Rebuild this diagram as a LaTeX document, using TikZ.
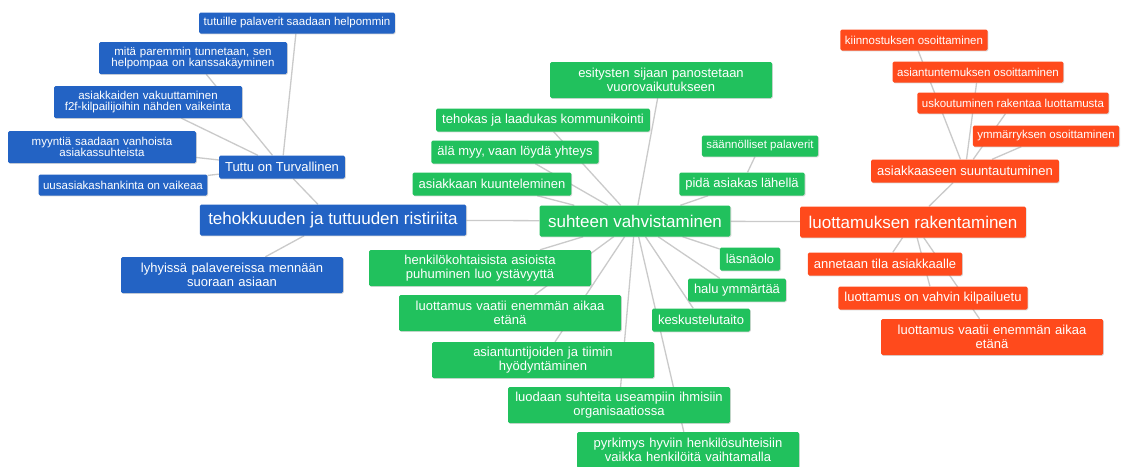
\documentclass[tikz,border=0pt]{standalone}
\usepackage{fontspec}
\setmainfont{Liberation Sans}
\usetikzlibrary{backgrounds,shadows}

\definecolor{blueNode}{HTML}{2363C4}
\definecolor{greenNode}{HTML}{21C15D}
\definecolor{redNode}{HTML}{FF4A1C}
\definecolor{linkGray}{HTML}{CACACA}

\begin{document}
\begin{tikzpicture}[x=1pt,y=-1pt,
    box/.style={rounded corners=1.5pt,text=white,inner ysep=0pt,align=center,
      drop shadow={shadow xshift=0.8pt,shadow yshift=-0.9pt,opacity=0.3}},
    big/.style={box,font=\fontsize{17}{18}\selectfont,inner xsep=8.5pt,minimum height=31pt},
    mid/.style={box,font=\fontsize{13}{14}\selectfont,inner xsep=6pt,minimum height=23pt},
    small/.style={box,font=\fontsize{11.5}{11.5}\selectfont,inner xsep=4.5pt,minimum height=21pt},
    midtwo/.style={mid,text width=210pt,minimum height=36pt},
    smalltwo/.style={small,text width=179pt,minimum height=32pt},
    bluefill/.style={fill=blueNode},
    greenfill/.style={fill=greenNode},
    redfill/.style={fill=redNode},
    link/.style={draw=linkGray,line width=1.3pt}]
    \useasboundingbox (0,0) rectangle (1122,466);

    \node[small,bluefill] (tutuille) at (297,23) {tutuille palaverit saadaan helpommin};
    \node[smalltwo,bluefill] (tunnetaan) at (193,58) {mitä paremmin tunnetaan, sen\\helpompaa on kanssakäyminen};
    \node[smalltwo,bluefill] (vakuuttaminen) at (148,102) {asiakkaiden vakuuttaminen\\f2f-kilpailijoihin nähden vaikeinta};
    \node[smalltwo,bluefill] (myynti) at (102,147) {myyntiä saadaan vanhoista\\asiakassuhteista};
    \node[mid,bluefill] (tuttu) at (282,167) {Tuttu on Turvallinen};
    \node[small,bluefill] (uusasiakas) at (123,185) {uusasiakashankinta on vaikeaa};
    \node[big,bluefill] (ristiriita) at (333,220) {tehokkuuden ja tuttuuden ristiriita};
    \node[midtwo,bluefill] (lyhyet) at (232,275) {lyhyissä palavereissa mennään\\suoraan asiaan};

    \node[midtwo,greenfill] (esitykset) at (661,80) {esitysten sijaan panostetaan\\vuorovaikutukseen};
    \node[mid,greenfill] (tehokas) at (543,120) {tehokas ja laadukas kommunikointi};
    \node[mid,greenfill] (yhteys) at (515,152) {älä myy, vaan löydä yhteys};
    \node[mid,greenfill] (kuuntelu) at (492,184) {asiakkaan kuunteleminen};
    \node[small,greenfill] (palaverit) at (760,146) {säännölliset palaverit};
    \node[mid,greenfill] (lahella) at (742,184) {pidä asiakas lähellä};
    \node[big,greenfill] (suhde) at (635,221) {suhteen vahvistaminen};
    \node[midtwo,greenfill] (ystavyys) at (480,268) {henkilökohtaisista asioista\\puhuminen luo ystävyyttä};
    \node[mid,greenfill] (lasnaolo) at (750,259) {läsnäolo};
    \node[mid,greenfill] (halu) at (737,290) {halu ymmärtää};
    \node[midtwo,greenfill] (aikaG) at (510,313) {luottamus vaatii enemmän aikaa\\etänä};
    \node[mid,greenfill] (keskustelu) at (701,320) {keskustelutaito};
    \node[midtwo,greenfill] (tiimi) at (543,360) {asiantuntijoiden ja tiimin\\hyödyntäminen};
    \node[midtwo,greenfill] (organisaatio) at (619,405) {luodaan suhteita useampiin ihmisiin\\organisaatiossa};
    \node[midtwo,greenfill] (pyrkimys) at (688,450) {pyrkimys hyviin henkilösuhteisiin\\vaikka henkilöitä vaihtamalla};

    \node[small,redfill] (kiinnostus) at (914,40) {kiinnostuksen osoittaminen};
    \node[small,redfill] (asiantuntemus) at (978,72) {asiantuntemuksen osoittaminen};
    \node[small,redfill] (uskoutuminen) at (1013,103) {uskoutuminen rakentaa luottamusta};
    \node[small,redfill] (ymmarrys) at (1046,136) {ymmärryksen osoittaminen};
    \node[mid,redfill] (suuntautuminen) at (965,171) {asiakkaaseen suuntautuminen};
    \node[big,redfill] (luottamus) at (913,222) {luottamuksen rakentaminen};
    \node[mid,redfill] (tila) at (885,264) {annetaan tila asiakkaalle};
    \node[mid,redfill] (kilpailuetu) at (933,298) {luottamus on vahvin kilpailuetu};
    \node[midtwo,redfill] (aikaR) at (992,337) {luottamus vaatii enemmän aikaa\\etänä};

    \begin{scope}[on background layer]
      \fill[white] (0,0) rectangle (1122,466);
      \draw[link] (tuttu) -- (tutuille) (tuttu) -- (tunnetaan) (tuttu) -- (vakuuttaminen)
        (tuttu) -- (myynti) (tuttu) -- (uusasiakas);
      \draw[link] (ristiriita) -- (tuttu) (ristiriita) -- (lyhyet) (ristiriita) -- (suhde);
      \draw[link] (suhde) -- (esitykset) (suhde) -- (tehokas) (suhde) -- (yhteys)
        (suhde) -- (kuuntelu) (suhde) -- (lahella) (suhde) -- (ystavyys)
        (suhde) -- (lasnaolo) (suhde) -- (halu) (suhde) -- (aikaG)
        (suhde) -- (keskustelu) (suhde) -- (tiimi) (suhde) -- (organisaatio)
        (suhde) -- (pyrkimys) (suhde) -- (luottamus);
      \draw[link] (lahella) -- (palaverit);
      \draw[link] (suuntautuminen) -- (kiinnostus) (suuntautuminen) -- (asiantuntemus)
        (suuntautuminen) -- (uskoutuminen) (suuntautuminen) -- (ymmarrys);
      \draw[link] (luottamus) -- (suuntautuminen) (luottamus) -- (tila)
        (luottamus) -- (kilpailuetu) (luottamus) -- (aikaR);
    \end{scope}
  \end{tikzpicture}
\end{document}
